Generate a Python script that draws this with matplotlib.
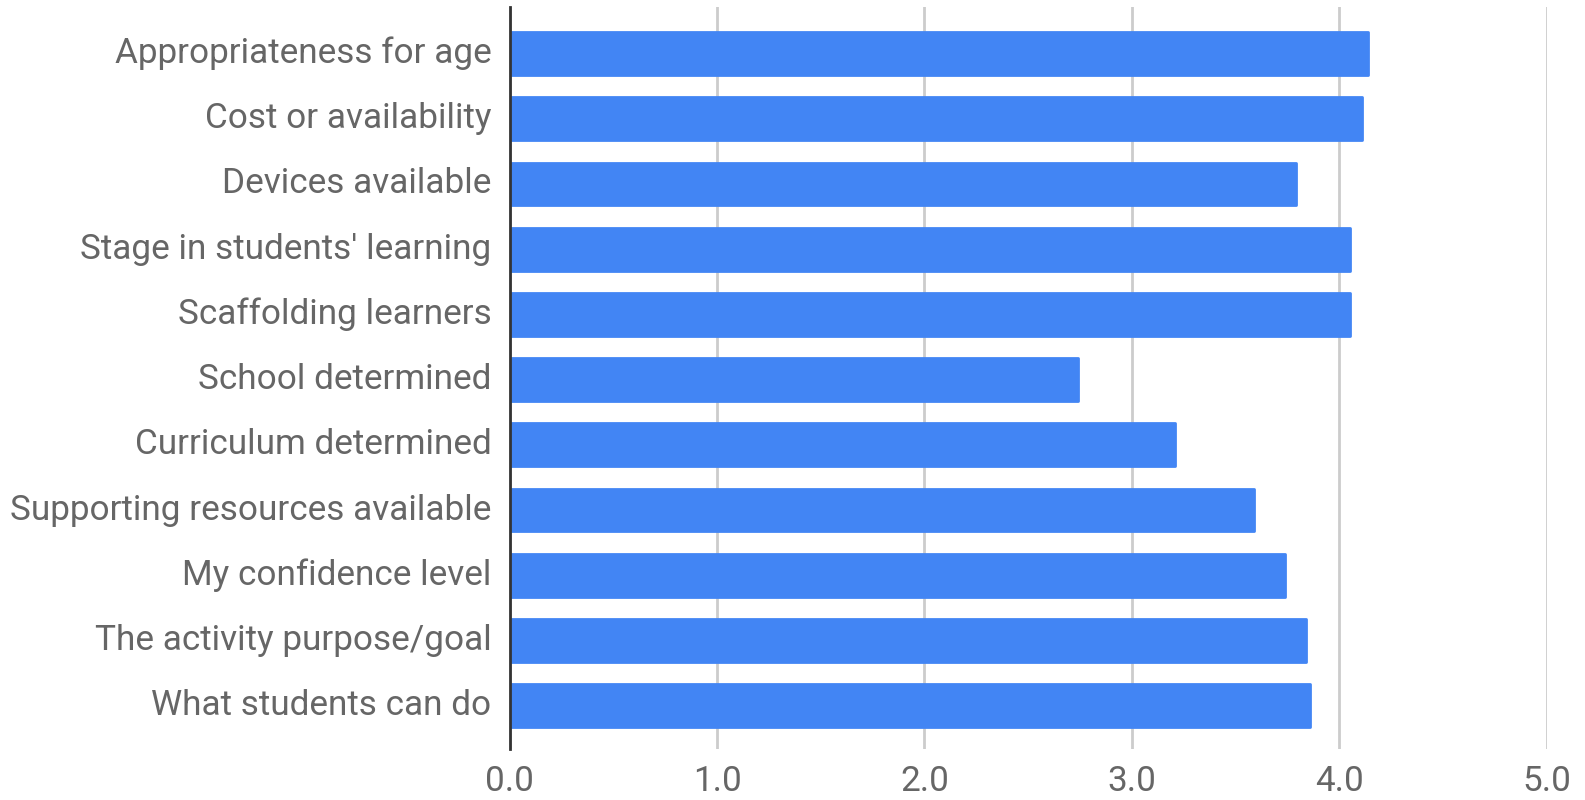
import matplotlib.pyplot as plt

plt.rcParams["font.family"] = ["Roboto", "DejaVu Sans"]

factors = [
    "Appropriateness for age",
    "Cost or availability",
    "Devices available",
    "Stage in students' learning",
    "Scaffolding learners",
    "School determined",
    "Curriculum determined",
    "Supporting resources available",
    "My confidence level",
    "The activity purpose/goal",
    "What students can do",
]
scores = [4.14, 4.11, 3.79, 4.05, 4.05, 2.74, 3.21, 3.59, 3.74, 3.84, 3.86]
xticks = [0.0, 1.0, 2.0, 3.0, 4.0, 5.0]

fig = plt.figure(figsize=(15.85, 8), dpi=100)
ax = fig.add_axes([0.3215, 0.064, 0.6544, 0.9275])

pos = list(range(len(factors)))
ax.barh(pos, scores, height=0.655, color="#4285F4", edgecolor="#4285F4",
        linewidth=2, joinstyle="round", zorder=3)

ax.set_xlim(0, 5)
ax.set_ylim(10.66, -0.716)
ax.set_yticks(pos, factors)
ax.set_xticks(xticks, ["{:.1f}".format(t) for t in xticks])

ax.grid(axis="x", color="#cccccc", linewidth=2, zorder=0)
for s in ["top", "right", "bottom"]:
    ax.spines[s].set_visible(False)
ax.spines["left"].set_color("#333333")
ax.spines["left"].set_linewidth(2)
ax.spines["left"].set_zorder(4)

ax.tick_params(axis="y", length=0, pad=13, labelsize=25.3, labelcolor="#666666")
ax.tick_params(axis="x", length=0, pad=12, labelsize=25.3, labelcolor="#666666")
for lbl in ax.get_yticklabels():
    lbl.set_verticalalignment("center")

fig.savefig("out.png", dpi=100)
